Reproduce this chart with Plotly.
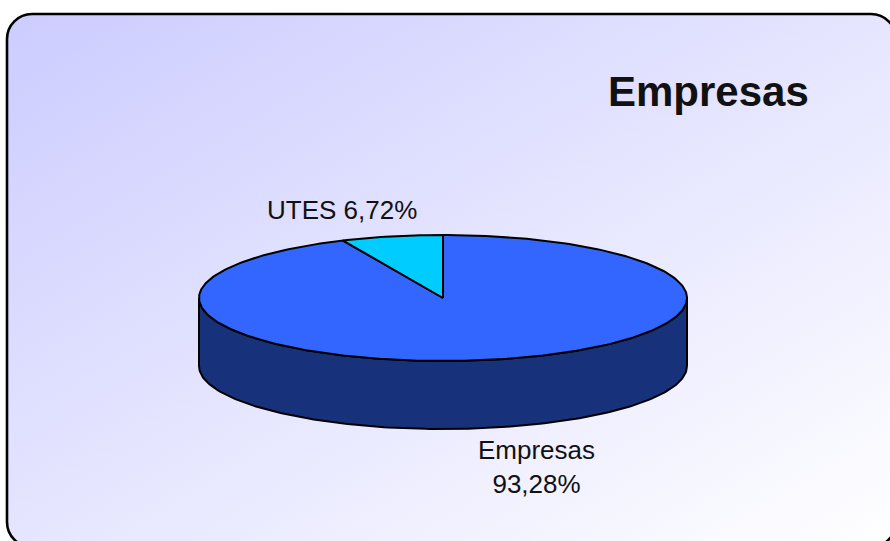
import base64
import numpy as np
import plotly.graph_objects as go

categories = ["Empresas", "UTES"]
values = [93.28, 6.72]
value_labels = ["93,28%", "6,72%"]
title = "Empresas"

colors_top = ["#3366FF", "#00CCFF"]
color_side = "#17317A"

W, H = 890, 541
CX, CY, RX, RY, DEPTH = 443, 298, 244, 63, 68
FRAME = (7, 14, 896, 547, 25)
FONT = "Liberation Sans, Arial, sans-serif"
TEXT = "#111111"


def ellipse(fracs, dy=0):
    t = 2 * np.pi * np.asarray(fracs)
    return CX + RX * np.sin(t), CY + dy + RY * -np.cos(t)


x0, y0, x1, y1, r = FRAME
svg = f'''<svg xmlns="http://www.w3.org/2000/svg" width="{W}" height="{H}" viewBox="0 0 {W} {H}">
<defs><linearGradient id="g" x1="0" y1="0" x2="1" y2="1">
<stop offset="0" stop-color="#CCCCFF"/><stop offset="1" stop-color="#FFFFFF"/>
</linearGradient></defs>
<rect x="{x0}" y="{y0}" width="{x1-x0}" height="{y1-y0}" rx="{r}" ry="{r}" fill="url(#g)" stroke="#000" stroke-width="2.6"/>
</svg>'''
bg = "data:image/svg+xml;base64," + base64.b64encode(svg.encode()).decode()

fig = go.Figure()
line = dict(color="#000000", width=2)

# side wall (front half of the disc, below the top face)
f = np.linspace(0.25, 0.75, 181)
xt, yt = ellipse(f)
xb, yb = ellipse(f, DEPTH)
fig.add_trace(go.Scatter(x=np.r_[xb, xt[::-1], xb[0]], y=np.r_[yb, yt[::-1], yb[0]],
                         mode="lines", fill="toself", fillcolor=color_side, line=line,
                         hoverinfo="skip", showlegend=False))

# top face wedges, clockwise from 12 o'clock
total = sum(values)
start = 0.0
for name, v, c in zip(categories, values, colors_top):
    frac = v / total
    f = np.linspace(start, start + frac, max(int(frac * 360), 8))
    xe, ye = ellipse(f)
    fig.add_trace(go.Scatter(x=np.r_[CX, xe, CX], y=np.r_[CY, ye, CY], mode="lines",
                             fill="toself", fillcolor=c, line=line, name=name,
                             hoverinfo="name", showlegend=False))
    start += frac

annotations = [
    dict(x=708.5, y=91, text=f"<b>{title}</b>", font=dict(size=42, color=TEXT, family=FONT)),
    dict(x=341.5, y=210, text=f"{categories[1]} {value_labels[1]}", font=dict(size=26, color=TEXT, family=FONT)),
    dict(x=536, y=467, text=f"{categories[0]}<br>{value_labels[0]}", font=dict(size=26, color=TEXT, family=FONT)),
]
for a in annotations:
    a.update(showarrow=False, xref="x", yref="y", align="center")

fig.update_layout(
    width=W, height=H, margin=dict(l=0, r=0, t=0, b=0),
    paper_bgcolor="#FFFFFF", plot_bgcolor="rgba(0,0,0,0)",
    xaxis=dict(range=[0, W], visible=False, fixedrange=True),
    yaxis=dict(range=[H, 0], visible=False, fixedrange=True),
    annotations=annotations,
    images=[dict(source=bg, xref="paper", yref="paper", x=0, y=1, sizex=1, sizey=1,
                 xanchor="left", yanchor="top", sizing="stretch", layer="below")],
)
fig.write_html("out.html", config=dict(displayModeBar=False),
               post_script="document.body.style.margin='0';")
